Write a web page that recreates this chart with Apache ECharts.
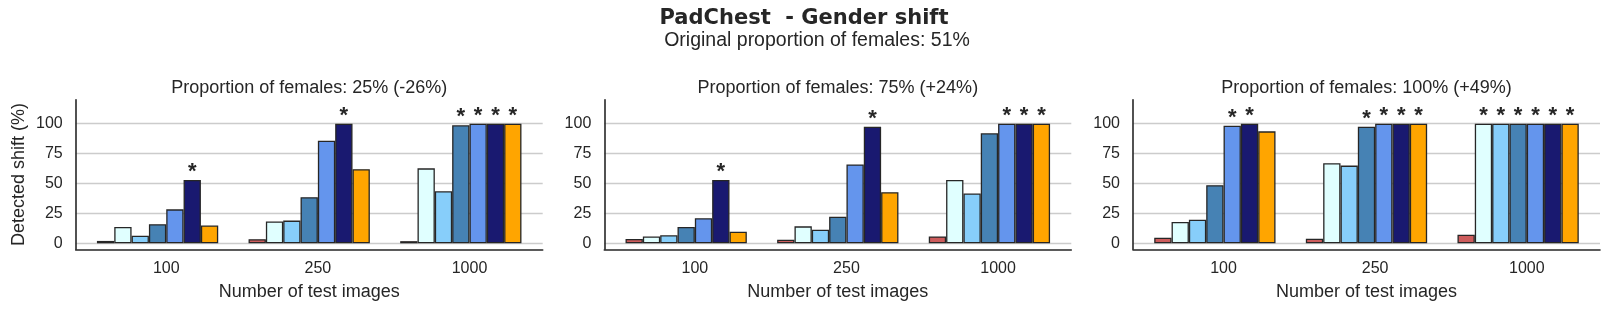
<!DOCTYPE html>
<html>
<head>
<meta charset="utf-8">
<script src="https://cdn.jsdelivr.net/npm/echarts@6/dist/echarts.min.js"></script>
<style>
html,body{margin:0;padding:0;background:#fff;}
#chart{width:1611px;height:312px;}
</style>
</head>
<body>
<div id="chart"></div>
<script>
// ---- data ----
const categories = ['100', '250', '1000'];
const yTicks = [0, 25, 50, 75, 100];
const suptitle = 'PadChest  - Gender shift';
const subtitle = 'Original proportion of females: 51%';
const panelTitles = [
  'Proportion of females: 25% (-26%)',
  'Proportion of females: 75% (+24%)',
  'Proportion of females: 100% (+49%)'
];
const xName = 'Number of test images';
const yName = 'Detected shift (%)';
const seriesNames = ['s1', 's2', 's3', 's4', 's5', 's6', 's7'];

// values per series (rows) and per sample size (columns)
const shift25 = [
  [2.0, 3.5, 1.8],
  [13.7, 18.3, 62.7],
  [6.4, 19.0, 43.5],
  [16.0, 38.6, 98.7],
  [28.4, 85.8, 100],
  [53.0, 100, 100],
  [14.9, 62.0, 100]
];
const shift75 = [
  [3.6, 3.0, 5.8],
  [5.8, 14.2, 53.0],
  [6.7, 11.4, 41.7],
  [13.6, 22.2, 92.0],
  [21.0, 66.0, 100],
  [53.0, 97.5, 100],
  [9.7, 42.8, 100]
];
const shift100 = [
  [4.7, 3.9, 7.2],
  [17.8, 67.0, 100],
  [19.7, 65.0, 100],
  [48.6, 97.5, 100],
  [98.3, 100, 100],
  [100, 100, 100],
  [93.6, 100, 100]
];
// significance markers (*)
const stars25 = [
  [0, 0, 0], [0, 0, 0], [0, 0, 0], [0, 0, 1], [0, 0, 1], [1, 1, 1], [0, 0, 1]
];
const stars75 = [
  [0, 0, 0], [0, 0, 0], [0, 0, 0], [0, 0, 0], [0, 0, 1], [1, 1, 1], [0, 0, 1]
];
const stars100 = [
  [0, 0, 0], [0, 0, 1], [0, 0, 1], [0, 1, 1], [1, 1, 1], [1, 1, 1], [0, 1, 1]
];

// ---- styles / layout ----
const colors = ['#CD5C5C', '#E0FFFF', '#87CEFA', '#4682B4', '#6495ED', '#191970', '#FFA500'];
const ink = '#262626';
const sans = '"Liberation Sans", Arial, sans-serif';
const panels = [
  {vals: shift25, stars: stars25},
  {vals: shift75, stars: stars75},
  {vals: shift100, stars: stars100}
];
const gridLeft = [75.7, 604.3, 1133];
const gridTop = 99.8, gridW = 467, gridH = 149.5;
const X_MIN = -0.54, X_MAX = 2.54;
const BAR_UNIT = 0.8 / 7;
const pxPerUnit = gridW / (X_MAX - X_MIN);
const barPx = BAR_UNIT * pxPerUnit;

const grids = [], xAxes = [], yAxes = [], series = [], graphics = [];
panels.forEach((p, pi) => {
  grids.push({left: gridLeft[pi], top: gridTop, width: gridW, height: gridH, containLabel: false});
  xAxes.push({
    type: 'value', gridIndex: pi, min: X_MIN, max: X_MAX,
    axisLine: {show: true, onZero: false, lineStyle: {color: ink, width: 1.6}},
    axisTick: {show: false},
    splitLine: {show: false},
    axisLabel: {
      customValues: categories.map((c, i) => i + BAR_UNIT / 2),
      formatter: v => categories[Math.round(v - BAR_UNIT / 2)],
      fontFamily: sans, fontSize: 16, color: ink, margin: 11
    },
    name: xName, nameLocation: 'middle', nameGap: 34,
    nameTextStyle: {fontFamily: sans, fontSize: 18, color: ink}
  });
  yAxes.push({
    type: 'value', gridIndex: pi, min: -5, max: 120,
    axisLine: {show: true, onZero: false, lineStyle: {color: ink, width: 1.6}},
    axisTick: {show: false, customValues: yTicks},
    axisLabel: {customValues: yTicks, fontFamily: sans, fontSize: 16, color: ink, margin: 13},
    splitLine: {show: true, lineStyle: {color: '#cccccc', width: 1.3}},
    name: pi === 0 ? yName : '', nameLocation: 'middle', nameGap: 48,
    nameTextStyle: {fontFamily: sans, fontSize: 18, color: ink}
  });
  p.vals.forEach((row, si) => {
    series.push({
      type: 'bar', name: seriesNames[si], xAxisIndex: pi, yAxisIndex: pi,
      barWidth: barPx, barGap: '0%', silent: true, animation: false,
      itemStyle: {color: colors[si], borderColor: ink, borderWidth: 1.3},
      label: {show: false, position: 'top', distance: 0, offset: [0, 3], formatter: '*',
              fontFamily: sans, fontSize: 22, fontWeight: 'bold', color: ink},
      data: row.map((v, gi) => ({value: [gi, v], label: {show: !!p.stars[si][gi]}}))
    });
  });
  graphics.push({
    type: 'text', x: gridLeft[pi] + gridW / 2, y: 88,
    style: {text: panelTitles[pi], font: '18px ' + sans, fill: ink, align: 'center', verticalAlign: 'middle'}
  });
});
graphics.push({
  type: 'text', x: 804, y: 19,
  style: {text: suptitle, font: 'bold 21px "DejaVu Sans", sans-serif', fill: ink, align: 'center', verticalAlign: 'middle'}
});
graphics.push({
  type: 'text', x: 817, y: 41,
  style: {text: subtitle, font: '19.5px ' + sans, fill: ink, align: 'center', verticalAlign: 'middle'}
});

const chart = echarts.init(document.getElementById('chart'), null, {renderer: 'canvas'});
chart.setOption({
  animation: false,
  backgroundColor: '#ffffff',
  grid: grids, xAxis: xAxes, yAxis: yAxes, series: series, graphic: graphics
});
</script>
</body>
</html>
